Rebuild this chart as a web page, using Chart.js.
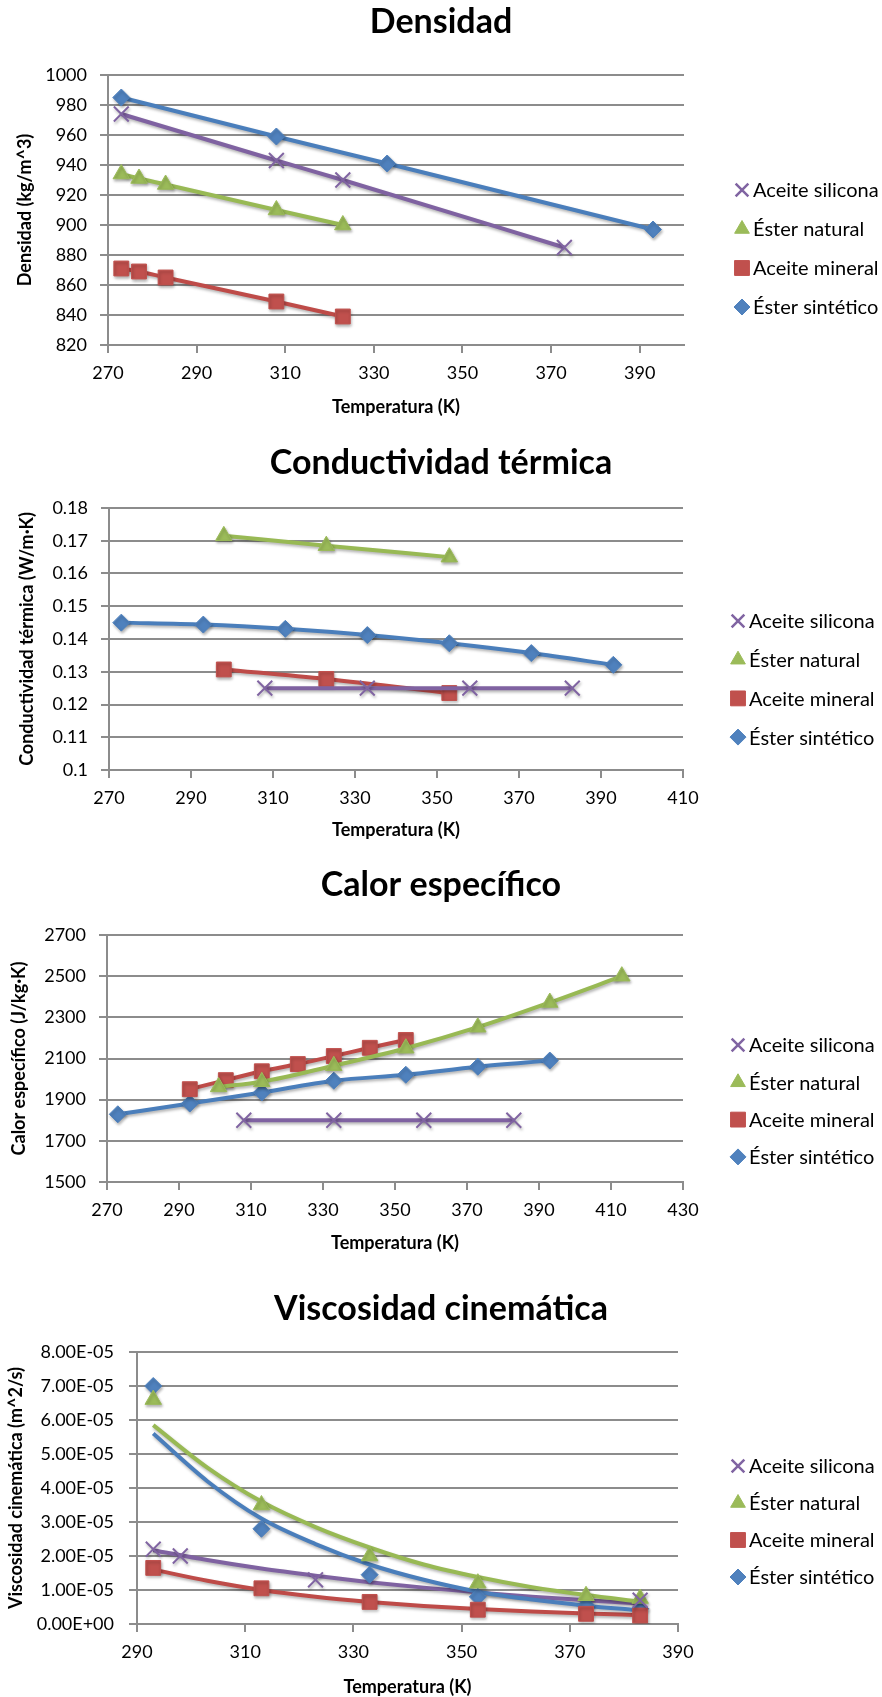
<!DOCTYPE html>
<html>
<head>
<meta charset="utf-8">
<script src="https://cdn.jsdelivr.net/npm/chart.js@4.4.1/dist/chart.umd.min.js"></script>
<style>
  body { margin: 0; background: #fff; }
  .box { position: absolute; left: 0; width: 882px; }
</style>
</head>
<body>
<div class="box" style="top:0;height:440px"><canvas id="dens"></canvas></div>
<div class="box" style="top:440px;height:422px"><canvas id="cond"></canvas></div>
<div class="box" style="top:862px;height:424px"><canvas id="calor"></canvas></div>
<div class="box" style="top:1286px;height:411px"><canvas id="visc"></canvas></div>
<script>
// ---- Densidad ----
const densTempSil = [273, 308, 323, 373];
const densSil     = [974, 943, 930, 885];
const densTempNat = [273, 277, 283, 308, 323];
const densNat     = [934, 931, 927, 910, 900];
const densTempMin = [273, 277, 283, 308, 323];
const densMin     = [871, 869, 865, 849, 839];
const densTempSin = [273, 308, 333, 393];
const densSin     = [985, 959, 941, 897];
const densXTicks  = [270, 290, 310, 330, 350, 370, 390];
const densYLabels = ["820", "840", "860", "880", "900", "920", "940", "960", "980", "1000"];

// ---- Conductividad térmica ----
const condTempSil = [308, 333, 358, 383];
const condSil     = [0.125, 0.125, 0.125, 0.125];
const condTempNat = [298, 323, 353];
const condNat     = [0.1715, 0.1685, 0.1650];
const condTempMin = [298, 323, 353];
const condMin     = [0.1307, 0.1278, 0.1235];
const condTempSin = [273, 293, 313, 333, 353, 373, 393];
const condSin     = [0.1450, 0.1444, 0.1431, 0.1412, 0.1387, 0.1357, 0.1321];
const condXTicks  = [270, 290, 310, 330, 350, 370, 390, 410];
const condYLabels = ["0.1", "0.11", "0.12", "0.13", "0.14", "0.15", "0.16", "0.17", "0.18"];

// ---- Calor específico ----
const calTempSil = [308, 333, 358, 383];
const calSil     = [1800, 1800, 1800, 1800];
const calTempNat = [301, 313, 333, 353, 373, 393, 413];
const calNat     = [1962, 1987, 2065, 2150, 2252, 2372, 2500];
const calTempMin = [293, 303, 313, 323, 333, 343, 353];
const calMin     = [1951, 1995, 2038, 2073, 2112, 2152, 2190];
const calTempSin = [273, 293, 313, 333, 353, 373, 393];
const calSin     = [1829, 1881, 1935, 1992, 2021, 2060, 2090];
const calXTicks  = [270, 290, 310, 330, 350, 370, 390, 410, 430];
const calYLabels = ["1500", "1700", "1900", "2100", "2300", "2500", "2700"];

// ---- Viscosidad cinemática ----
const viscTempSil = [293, 298, 323, 383];
const viscSil     = [2.2e-5, 2.0e-5, 1.3e-5, 0.7e-5];
const viscTempNat = [293, 313, 333, 353, 373, 383];
const viscNat     = [6.6e-5, 3.5e-5, 2.0e-5, 1.2e-5, 0.83e-5, 0.75e-5];
const viscTempMin = [293, 313, 333, 353, 373, 383];
const viscMin     = [1.65e-5, 1.05e-5, 0.65e-5, 0.42e-5, 0.3e-5, 0.25e-5];
const viscTempSin = [293, 313, 333, 353, 373, 383];
const viscSin     = [7.0e-5, 2.8e-5, 1.45e-5, 0.8e-5, 0.55e-5, 0.45e-5];
// trend curves
const viscTrendTemp = [293, 303, 313, 323, 333, 343, 353, 363, 373, 383];
const viscTrendSil  = [2.17e-5, 1.88e-5, 1.63e-5, 1.42e-5, 1.23e-5, 1.07e-5, 0.93e-5, 0.80e-5, 0.70e-5, 0.60e-5];
const viscTrendNat  = [5.85e-5, 4.6e-5, 3.6e-5, 2.85e-5, 2.25e-5, 1.75e-5, 1.38e-5, 1.08e-5, 0.85e-5, 0.66e-5];
const viscTrendMin  = [1.6e-5, 1.27e-5, 1.0e-5, 0.8e-5, 0.65e-5, 0.53e-5, 0.44e-5, 0.37e-5, 0.31e-5, 0.26e-5];
const viscTrendSin  = [5.6e-5, 4.2e-5, 3.1e-5, 2.35e-5, 1.75e-5, 1.3e-5, 0.95e-5, 0.72e-5, 0.54e-5, 0.4e-5];
const viscXTicks  = [290, 310, 330, 350, 370, 390];
const viscYLabels = ["0.00E+00", "1.00E-05", "2.00E-05", "3.00E-05", "4.00E-05", "5.00E-05", "6.00E-05", "7.00E-05", "8.00E-05"];

const LABELS = ["Aceite silicona", "Éster natural", "Aceite mineral", "Éster sintético"];

Chart.defaults.font.family = "Lato, 'Noto Sans', sans-serif";
const GRID = "#8c8c8c";
const TITLE_SIZE = 34;
const AXIS_TITLE = 18;

// marker / line styles per fluid
const ST = {
    sil: { line: "#7f62a1", fill: "#8064a2", shape: "crossRot", r: 10.5, lr: 9 },
    nat: { line: "#98b954", fill: "#9bbb59", shape: "triangle", r: 9.5, lr: 8.5 },
    min: { line: "#be4b48", fill: "#c0504d", shape: "rect", r: 10.5, lr: 10.5 },
    sin: { line: "#4a7ebb", fill: "#4f81bd", shape: "rectRot", r: 8.5, lr: 8 }
};

function series(label, xs, ys, st, extra) {
    return Object.assign({
        label: label,
        data: xs.map((x, i) => ({ x: x, y: ys[i] })),
        showLine: true,
        borderColor: st.line,
        borderWidth: 4,
        backgroundColor: st.fill,
        pointBackgroundColor: st.fill,
        pointBorderColor: st.fill,
        pointStyle: st.shape,
        pointRadius: st.r,
        pointBorderWidth: st.shape === "crossRot" ? 2 : 1,
        legendRadius: st.lr,
        cubicInterpolationMode: "monotone",
        inLegend: true
    }, extra || {});
}

// legend drawn at a fixed spot on the right
const sideLegend = {
    id: "sideLegend",
    afterDraw(chart, args, opts) {
        const ctx = chart.ctx;
        const items = chart.data.datasets.filter(d => d.inLegend);
        ctx.save();
        ctx.font = "20px Lato, 'Noto Sans', sans-serif";
        ctx.textBaseline = "middle";
        items.forEach((d, i) => {
            const y = opts.top + i * opts.gap;
            ctx.fillStyle = d.pointBackgroundColor;
            ctx.strokeStyle = d.pointBorderColor;
            ctx.lineWidth = d.pointStyle === "crossRot" ? 2.5 : 1;
            Chart.helpers.drawPoint(ctx, {
                pointStyle: d.pointStyle, rotation: 0, radius: d.legendRadius, borderWidth: ctx.lineWidth
            }, opts.x, y);
            ctx.fillStyle = "#000";
            ctx.fillText(d.label, opts.x + 11, y + 1);
        });
        ctx.restore();
    }
};

// soft shadow under the series, like the original
const lineShadow = {
    id: "lineShadow",
    beforeDatasetDraw(chart) {
        const c = chart.ctx;
        c.save();
        c.shadowColor = "rgba(0,0,0,0.3)";
        c.shadowBlur = 3;
        c.shadowOffsetX = 1;
        c.shadowOffsetY = 2;
    },
    afterDatasetDraw(chart) {
        chart.ctx.restore();
    }
};

function drawPanel(id, cfg) {
    const H = cfg.height;
    const [left, right, top, bottom] = cfg.plot;
    const titleX = cfg.titleX || 441;
    const padR = Math.max(0, 2 * (441 - titleX));
    return new Chart(document.getElementById(id), {
        type: "scatter",
        data: { datasets: cfg.datasets },
        options: {
            responsive: true,
            maintainAspectRatio: false,
            animation: false,
            events: [],
            layout: { padding: { left: 0, top: 0, bottom: 0, right: padR } },
            plugins: {
                legend: { display: false },
                tooltip: { enabled: false },
                title: {
                    display: true,
                    text: cfg.title,
                    color: "#000",
                    font: { size: TITLE_SIZE, weight: "bold" },
                    padding: {
                        top: cfg.titleY - TITLE_SIZE * 0.6,
                        bottom: top - cfg.titleY - TITLE_SIZE * 0.6
                    }
                },
                sideLegend: { x: cfg.legend[0], top: cfg.legend[1], gap: cfg.legend[2] }
            },
            scales: {
                x: {
                    type: "linear",
                    min: cfg.xMin,
                    max: cfg.xMax,
                    afterBuildTicks: a => { a.ticks = cfg.xTicks.map(v => ({ value: v })); },
                    afterFit: s => { s.height = H - bottom; },
                    grid: { drawOnChartArea: false, drawTicks: true, tickLength: 8, color: GRID, lineWidth: 2 },
                    border: { color: GRID, width: 2 },
                    ticks: { color: "#000", font: { size: 18 }, padding: 9, maxRotation: 0 },
                    title: {
                        display: true, text: "Temperatura (K)", color: "#000",
                        font: { size: AXIS_TITLE, weight: "bold" },
                        padding: { top: 0, bottom: H - cfg.xTitleY - AXIS_TITLE * 0.6 }
                    }
                },
                y: {
                    type: "linear",
                    min: cfg.yMin,
                    max: cfg.yMax,
                    afterBuildTicks: a => {
                        const step = (cfg.yMax - cfg.yMin) / (cfg.yLabels.length - 1);
                        a.ticks = cfg.yLabels.map((t, i) => ({ value: cfg.yMin + i * step }));
                    },
                    afterFit: s => { s.width = left; },
                    grid: { drawTicks: true, tickLength: 8, color: GRID, lineWidth: 2 },
                    border: { color: GRID, width: 2 },
                    ticks: {
                        color: "#000", font: { size: 18 }, padding: cfg.yPad,
                        callback: (v, i) => cfg.yLabels[i]
                    },
                    title: {
                        display: true, text: cfg.yTitle, color: "#000",
                        font: { size: AXIS_TITLE, weight: "bold" },
                        padding: { top: cfg.yTitleX - AXIS_TITLE * 0.6, bottom: 0 }
                    }
                },
                // empty band on the right that holds the legend
                side: {
                    type: "linear",
                    position: "right",
                    grid: { display: false, drawTicks: false },
                    border: { display: false },
                    ticks: { display: false },
                    afterFit: s => { s.width = 882 - padR - right; }
                }
            }
        },
        plugins: [sideLegend, lineShadow]
    });
}

drawPanel("dens", {
    title: "Densidad", yTitle: "Densidad (kg/m^3)",
    height: 440, plot: [108, 684, 75, 345], titleY: 22, xTitleY: 407, yTitleX: 25, yPad: 13,
    legend: [742, 190, 39],
    xMin: 270, xMax: 400, xTicks: densXTicks,
    yMin: 820, yMax: 1000, yLabels: densYLabels,
    datasets: [
        series(LABELS[0], densTempSil, densSil, ST.sil),
        series(LABELS[1], densTempNat, densNat, ST.nat),
        series(LABELS[2], densTempMin, densMin, ST.min),
        series(LABELS[3], densTempSin, densSin, ST.sin)
    ]
});

drawPanel("cond", {
    title: "Conductividad térmica", yTitle: "Conductividad térmica (W/m·K)",
    height: 422, plot: [109, 683, 68, 330], titleY: 23, xTitleY: 390, yTitleX: 27, yPad: 13,
    legend: [738, 181, 38.7],
    xMin: 270, xMax: 410, xTicks: condXTicks,
    yMin: 0.1, yMax: 0.18, yLabels: condYLabels,
    datasets: [
        series(LABELS[0], condTempSil, condSil, ST.sil),
        series(LABELS[1], condTempNat, condNat, ST.nat),
        series(LABELS[2], condTempMin, condMin, ST.min),
        series(LABELS[3], condTempSin, condSin, ST.sin)
    ]
});

drawPanel("calor", {
    title: "Calor específico", yTitle: "Calor específico (J/kg·K)",
    height: 424, plot: [107, 683, 73, 320], titleY: 23, xTitleY: 381, yTitleX: 19, yPad: 13,
    legend: [738, 183, 37.3],
    xMin: 270, xMax: 430, xTicks: calXTicks,
    yMin: 1500, yMax: 2700, yLabels: calYLabels,
    datasets: [
        series(LABELS[0], calTempSil, calSil, ST.sil),
        series(LABELS[1], calTempNat, calNat, ST.nat),
        series(LABELS[2], calTempMin, calMin, ST.min),
        series(LABELS[3], calTempSin, calSin, ST.sin)
    ]
});

const trend = { pointRadius: 0, inLegend: false, label: "" };
drawPanel("visc", {
    title: "Viscosidad cinemática", yTitle: "Viscosidad cinemática (m^2/s)",
    height: 411, plot: [137, 678, 66, 338], titleY: 23, xTitleY: 401, yTitleX: 16, yPad: 15,
    legend: [738, 180, 37],
    xMin: 290, xMax: 390, xTicks: viscXTicks,
    yMin: 0, yMax: 8e-5, yLabels: viscYLabels,
    datasets: [
        series(LABELS[0], viscTempSil, viscSil, ST.sil, { showLine: false }),
        series(LABELS[1], viscTempNat, viscNat, ST.nat, { showLine: false }),
        series(LABELS[2], viscTempMin, viscMin, ST.min, { showLine: false }),
        series(LABELS[3], viscTempSin, viscSin, ST.sin, { showLine: false }),
        series("", viscTrendTemp, viscTrendSin, ST.sin, trend),
        series("", viscTrendTemp, viscTrendNat, ST.nat, trend),
        series("", viscTrendTemp, viscTrendSil, ST.sil, trend),
        series("", viscTrendTemp, viscTrendMin, ST.min, trend)
    ]
});
</script>
</body>
</html>
